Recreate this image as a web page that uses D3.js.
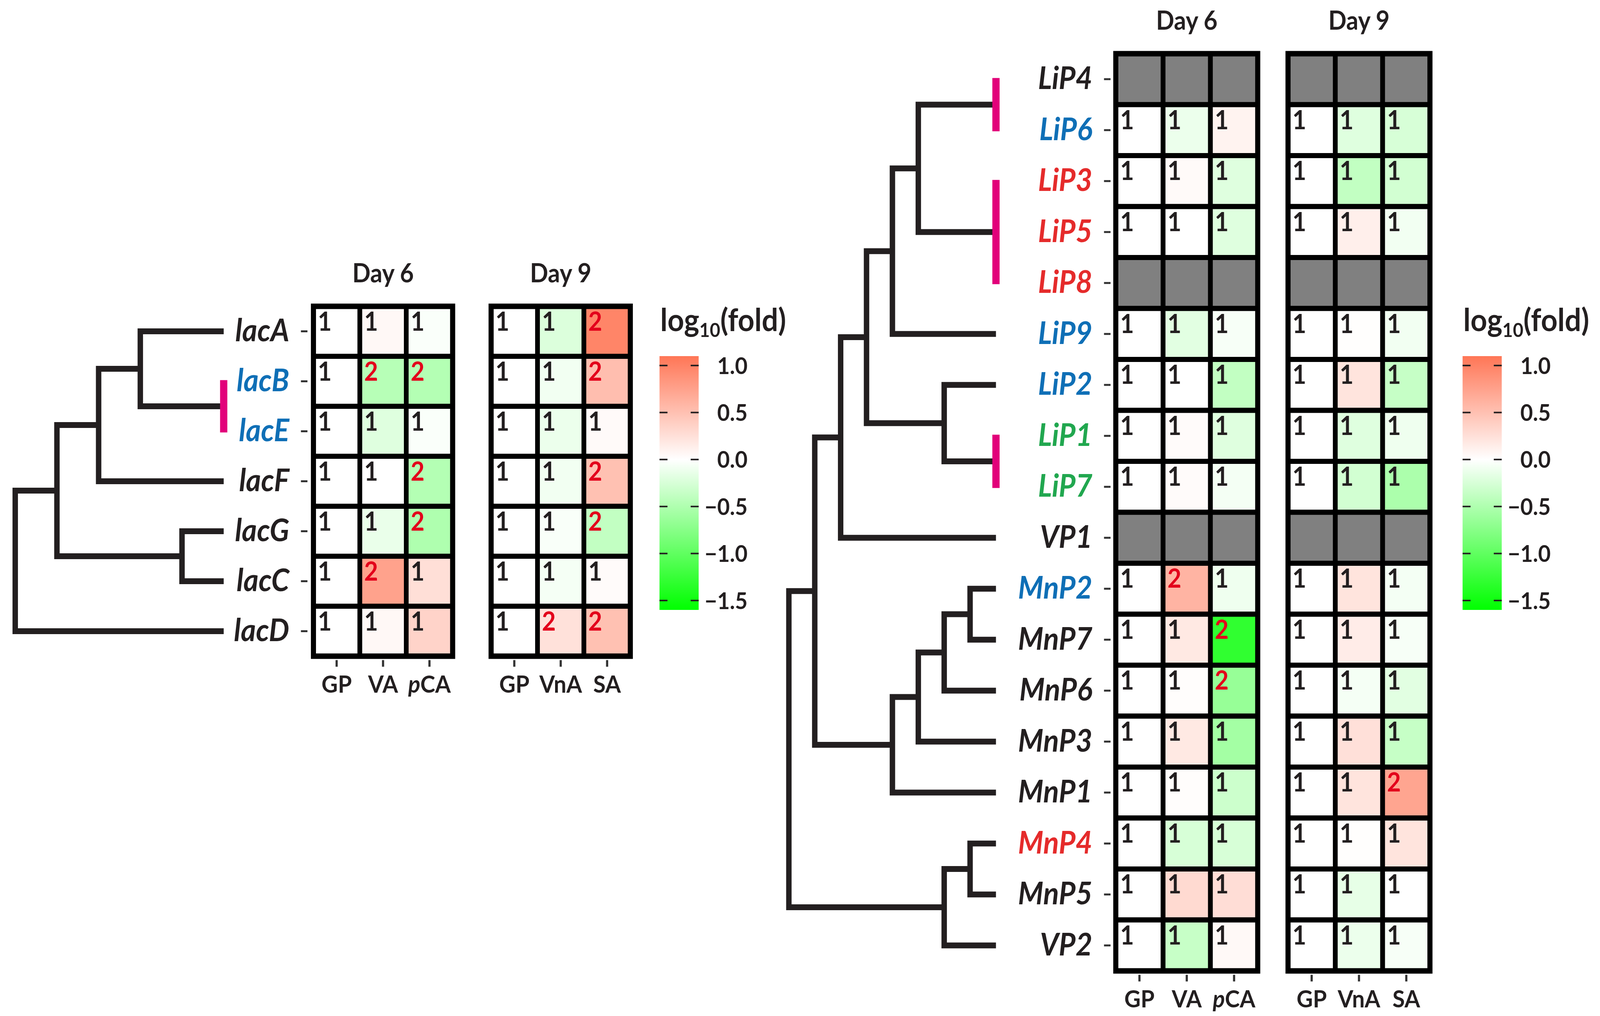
<!DOCTYPE html>
<html>
<head>
<meta charset="utf-8">
<script src="https://cdn.jsdelivr.net/npm/d3@7"></script>
<style>
  html, body { margin: 0; padding: 0; background: #fff; overflow: hidden; }
  svg { display: block; width: 100vw; height: 100vh; }
  text { font-family: Lato, "Open Sans", "DejaVu Sans", sans-serif; font-weight: 700; }
</style>
</head>
<body>
<svg id="chart" viewBox="0 0 4413 2602" preserveAspectRatio="none"></svg>
<script>
// ---- laccases (left) ----
var lacGenes = ["lacA", "lacB", "lacE", "lacF", "lacG", "lacC", "lacD"];
var lacLabelColor = ["k", "b", "b", "k", "k", "k", "k"];
var lacDay6Cols = ["GP", "VA", "pCA"];
var lacDay9Cols = ["GP", "VnA", "SA"];
var lacDay6Vals = [
  [0, 0.06, -0.03],
  [0, -0.45, -0.47],
  [0, -0.2, -0.03],
  [0, 0, -0.47],
  [0, -0.13, -0.5],
  [0, 0.75, 0.26],
  [0, 0.06, 0.35]
];
var lacDay6Nums = [[1,1,1],[1,2,2],[1,1,1],[1,1,2],[1,1,2],[1,2,1],[1,1,1]];
var lacDay9Vals = [
  [0, -0.22, 0.98],
  [0, -0.08, 0.52],
  [0, -0.12, 0.04],
  [0, -0.08, 0.5],
  [0, -0.04, -0.38],
  [0, -0.06, 0.03],
  [0, 0.24, 0.5]
];
var lacDay9Nums = [[1,1,2],[1,1,2],[1,1,1],[1,1,2],[1,1,2],[1,1,1],[1,2,2]];
// dendrogram: h = merge level (0 = identical, drawn as magenta bar)
var lacTree = {h: 5, c: [
  {h: 4, c: [
    {h: 3, c: [{h: 2, c: ["lacA", {h: 0, c: ["lacB", "lacE"]}]}, "lacF"]},
    {h: 1, c: ["lacG", "lacC"]}
  ]},
  "lacD"
]};

// ---- peroxidases (right) ----
var perGenes = ["LiP4","LiP6","LiP3","LiP5","LiP8","LiP9","LiP2","LiP1","LiP7",
                "VP1","MnP2","MnP7","MnP6","MnP3","MnP1","MnP4","MnP5","VP2"];
var perLabelColor = ["k","b","r","r","r","b","b","g","g","k","b","k","k","k","k","r","k","k"];
var perDay6Cols = ["GP", "VA", "pCA"];
var perDay9Cols = ["GP", "VnA", "SA"];
var perDay6Vals = [
  null,
  [0, -0.12, 0.1],
  [0, 0.04, -0.2],
  [0, 0, -0.2],
  null,
  [0, -0.18, -0.05],
  [0, 0, -0.38],
  [0, 0.03, -0.2],
  [0, 0.03, -0.07],
  null,
  [0, 0.6, -0.1],
  [0, 0.18, -1.3],
  [0, 0.02, -0.65],
  [0, 0.18, -0.57],
  [0, 0.02, -0.32],
  [0, -0.25, -0.25],
  [0, 0.3, 0.27],
  [0, -0.35, 0.05]
];
var perDay6Nums = [null,[1,1,1],[1,1,1],[1,1,1],null,[1,1,1],[1,1,1],[1,1,1],[1,1,1],
                   null,[1,2,1],[1,1,2],[1,1,2],[1,1,1],[1,1,1],[1,1,1],[1,1,1],[1,1,1]];
var perDay9Vals = [
  null,
  [0, -0.2, -0.25],
  [0, -0.38, -0.28],
  [0, 0.13, -0.08],
  null,
  [0, 0.01, -0.08],
  [0, 0.22, -0.36],
  [0, -0.2, -0.1],
  [0, -0.28, -0.52],
  null,
  [0, 0.22, -0.07],
  [0, 0.15, -0.05],
  [0, -0.06, -0.18],
  [0, 0.25, -0.36],
  [0, 0.22, 0.72],
  [0, 0.01, 0.22],
  [0, -0.15, 0],
  [0, -0.12, -0.05]
];
var perDay9Nums = [null,[1,1,1],[1,1,1],[1,1,1],null,[1,1,1],[1,1,1],[1,1,1],[1,1,1],
                   null,[1,1,1],[1,1,1],[1,1,1],[1,1,1],[1,1,2],[1,1,1],[1,1,1],[1,1,1]];
var perTree = {h: 8, c: [
  {h: 7, c: [
    {h: 6, c: [
      {h: 5, c: [
        {h: 4, c: [
          {h: 3, c: [{h: 0, c: ["LiP4", "LiP6"]}, {h: 0, c: ["LiP3", "LiP5", "LiP8"]}]},
          "LiP9"
        ]},
        {h: 2, c: ["LiP2", {h: 0, c: ["LiP1", "LiP7"]}]}
      ]},
      "VP1"
    ]},
    {h: 4, c: [{h: 3, c: [{h: 2, c: [{h: 1, c: ["MnP2", "MnP7"]}, "MnP6"]}, "MnP3"]}, "MnP1"]}
  ]},
  {h: 2, c: [{h: 1, c: ["MnP4", "MnP5"]}, "VP2"]}
]};

// ---- colour bar ----
var legendTicks = [1.0, 0.5, 0.0, -0.5, -1.0, -1.5];
var legendDomain = [-1.6, 0, 1.1];

var labelColors = {k: "#231f20", b: "#0f6fb6", r: "#e52b2b", g: "#21a74f"};
var numColors = {1: "#231f20", 2: "#e3001b"};
var INK = "#231f20";

var color = d3.scaleLinear().domain(legendDomain).range(["#00ff00", "#ffffff", "#ff7656"]);

var svg = d3.select("#chart");

function drawHeat(rows, cols, vals, nums, x0, y0, cell, title) {
  var g = svg.append("g");
  var y = d3.scaleBand().domain(rows).range([y0, y0 + rows.length * cell]);
  var x = d3.scaleBand().domain(cols).range([x0, x0 + cols.length * cell]);

  var cells = [];
  rows.forEach(function(r, i) {
    cols.forEach(function(c, j) {
      cells.push({r: r, c: c, v: vals[i] ? vals[i][j] : null, n: nums[i] ? nums[i][j] : null});
    });
  });

  g.selectAll("rect.cell").data(cells).enter().append("rect")
    .attr("class", "cell")
    .attr("x", function(d) { return x(d.c); })
    .attr("y", function(d) { return y(d.r); })
    .attr("width", cell).attr("height", cell)
    .attr("fill", function(d) { return d.v === null ? "#808080" : color(d.v); })
    .attr("stroke", "#000").attr("stroke-width", 13);

  g.append("rect")
    .attr("x", x0).attr("y", y0)
    .attr("width", cols.length * cell).attr("height", rows.length * cell)
    .attr("fill", "none").attr("stroke", "#000").attr("stroke-width", 14);

  g.selectAll("text.num").data(cells.filter(function(d) { return d.n !== null; })).enter()
    .append("text")
    .attr("class", "num")
    .attr("x", function(d) { return x(d.c) + 12; })
    .attr("y", function(d) { return y(d.r) + 63; })
    .attr("font-size", 66)
    .attr("fill", function(d) { return numColors[d.n]; })
    .text(function(d) { return d.n; });

  g.append("text")
    .attr("x", x0 + cols.length * cell / 2)
    .attr("y", y0 - 61)
    .attr("text-anchor", "middle")
    .attr("font-size", 66)
    .attr("fill", INK)
    .text(title);

  var ax = g.append("g")
    .attr("transform", "translate(0," + (y0 + rows.length * cell + 10) + ")")
    .call(d3.axisBottom(x).tickSize(17).tickPadding(22));
  ax.select(".domain").remove();
  ax.selectAll(".tick line").attr("stroke", "#333").attr("stroke-width", 6);
  ax.selectAll(".tick text")
    .attr("font-size", 62).attr("fill", INK)
    .style("font-family", "Lato, 'Open Sans', sans-serif").style("font-weight", 700)
    .each(function(d) {
      if (d === "pCA") {
        var t = d3.select(this).text("");
        t.append("tspan").attr("font-style", "italic").text("p");
        t.append("tspan").text("CA");
      }
    });
  return y;
}

function drawRowAxis(y, rows, colorKeys, xAxis) {
  var ax = svg.append("g")
    .attr("transform", "translate(" + xAxis + ",0)")
    .call(d3.axisLeft(y).tickSize(18).tickPadding(32));
  ax.select(".domain").remove();
  ax.selectAll(".tick line").attr("stroke", "#333").attr("stroke-width", 5);
  ax.selectAll(".tick text")
    .attr("font-size", 80).attr("font-style", "italic")
    .style("font-family", "Lato, 'Open Sans', sans-serif").style("font-weight", 700)
    .attr("fill", function(d) { return labelColors[colorKeys[rows.indexOf(d)]]; });
}

function drawTree(tree, y, leafX, step) {
  var lines = svg.append("g");
  var bars = svg.append("g");
  var half = y.bandwidth() / 2;
  function walk(node) {
    if (typeof node === "string") return {x: leafX, y: y(node) + half};
    var kids = node.c.map(walk);
    var nx = leafX - node.h * step;
    var a = kids[0], b = kids[kids.length - 1];
    if (node.h === 0) {
      bars.append("line")
        .attr("x1", nx).attr("x2", nx)
        .attr("y1", a.y - 3).attr("y2", b.y + 3)
        .attr("stroke", "#e2007a").attr("stroke-width", 20);
    } else {
      lines.append("path")
        .attr("d", "M" + a.x + "," + a.y + "H" + nx + "V" + b.y + "H" + b.x)
        .attr("fill", "none").attr("stroke", INK)
        .attr("stroke-width", 15).attr("stroke-linejoin", "miter");
    }
    return {x: nx, y: (a.y + b.y) / 2};
  }
  walk(tree);
}

function drawLegend(bx, by0, by1) {
  var g = svg.append("g");
  var w = 108;
  var s = d3.scaleLinear().domain([legendDomain[2], legendDomain[0]]).range([by0, by1]);
  var grad = svg.append("defs").append("linearGradient")
    .attr("id", "grad" + Math.round(bx))
    .attr("x1", 0).attr("y1", 0).attr("x2", 0).attr("y2", 1);
  legendDomain.slice().reverse().forEach(function(v) {
    grad.append("stop")
      .attr("offset", (s(v) - by0) / (by1 - by0))
      .attr("stop-color", color(v));
  });
  g.append("rect").attr("x", bx).attr("y", by0).attr("width", w).attr("height", by1 - by0)
    .attr("fill", "url(#grad" + Math.round(bx) + ")");
  var fmt = d3.format(".1f");
  legendTicks.forEach(function(t) {
    var ty = s(t);
    g.append("line").attr("x1", bx).attr("x2", bx + 22).attr("y1", ty).attr("y2", ty)
      .attr("stroke", INK).attr("stroke-width", 4);
    g.append("line").attr("x1", bx + w - 22).attr("x2", bx + w).attr("y1", ty).attr("y2", ty)
      .attr("stroke", INK).attr("stroke-width", 4);
    g.append("text").attr("x", bx + 243).attr("y", ty).attr("dy", "0.36em")
      .attr("text-anchor", "end").attr("font-size", 60).attr("fill", INK)
      .text(fmt(t));
  });
  var title = g.append("text").attr("x", bx + 2).attr("y", by0 - 64)
    .attr("font-size", 80).attr("fill", INK);
  title.append("tspan").text("log");
  title.append("tspan").attr("font-size", 50).attr("dy", 15).text("10");
  title.append("tspan").attr("dy", -15).text("(fold)");
}

// left block
var lacY = drawHeat(lacGenes, lacDay6Cols, lacDay6Vals, lacDay6Nums, 864.5, 784.5, 128, "Day 6");
drawHeat(lacGenes, lacDay9Cols, lacDay9Vals, lacDay9Nums, 1354.5, 784.5, 128, "Day 9");
drawRowAxis(lacY, lacGenes, lacLabelColor, 848);
drawTree(lacTree, lacY, 617, 115);
drawLegend(1819, 912, 1562);

// right block
var perY = drawHeat(perGenes, perDay6Cols, perDay6Vals, perDay6Nums, 3077.5, 137.5, 130.5, "Day 6");
drawHeat(perGenes, perDay9Cols, perDay9Vals, perDay9Nums, 3552.5, 137.5, 130.5, "Day 9");
drawRowAxis(perY, perGenes, perLabelColor, 3063);
drawTree(perTree, perY, 2747, 71.4);
drawLegend(4034, 912, 1562);
</script>
</body>
</html>
